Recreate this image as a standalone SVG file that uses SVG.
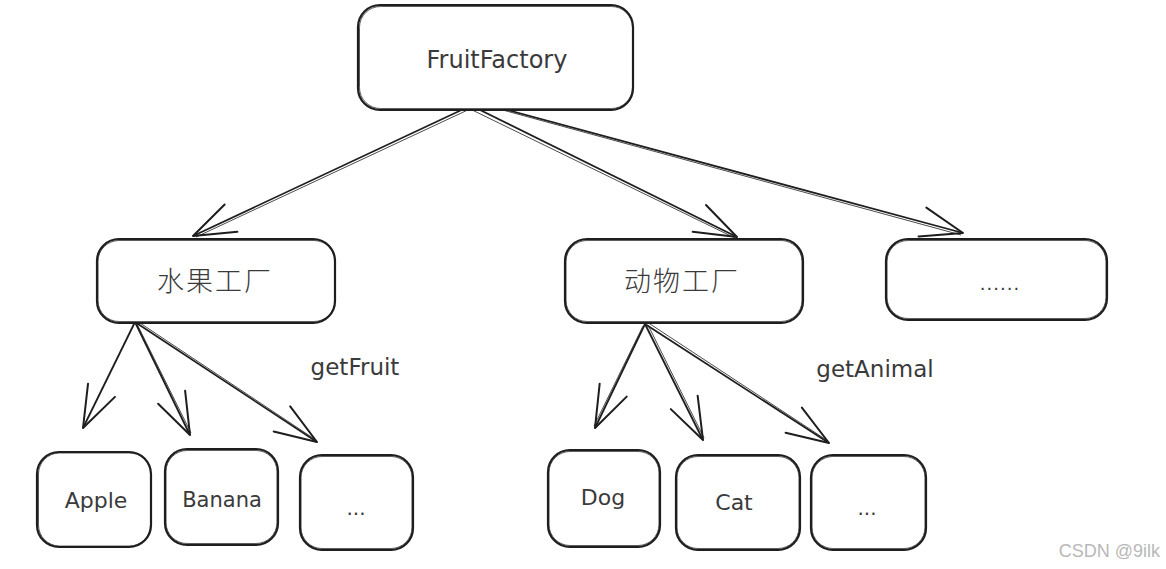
<svg xmlns="http://www.w3.org/2000/svg" width="1166" height="569" viewBox="0 0 1166 569">
<style>
.box{fill:#ffffff;stroke:#1e1e1e;stroke-width:2.2}
.box2{fill:none;stroke:#1e1e1e;stroke-width:0.9;opacity:0.8}
.lbl{font-family:"DejaVu Sans","Liberation Sans",sans-serif;fill:#3a3a3a;text-anchor:middle}
.cjk{font-family:"Noto Sans CJK SC","Noto Sans",sans-serif;font-weight:300;fill:#3a3a3a;text-anchor:middle}
.edge{fill:none;stroke:#1e1e1e;stroke-width:1.8;marker-end:url(#head)}
.edge2{fill:none;stroke:#1e1e1e;stroke-width:0.8}
.wm{font-family:"Liberation Sans",Arial,sans-serif;font-size:18px;fill:#b8b8b8;text-anchor:end}
</style>
<defs>
<marker id="head" markerUnits="userSpaceOnUse" viewBox="-50 -20 56 40" refX="0" refY="0" markerWidth="56" markerHeight="40" orient="auto" overflow="visible">
<path d="M-42,-15 L0,0 L-42,15" fill="none" stroke="#1e1e1e" stroke-width="2" stroke-linecap="round" stroke-linejoin="round"/>
</marker>
</defs>
<rect width="1166" height="569" fill="#ffffff"/>
<g id="connectors">
<line class="edge" x1="470" y1="106" x2="193" y2="236"/>
<line class="edge2" x1="472" y1="108" x2="196" y2="237"/>
<line class="edge" x1="468" y1="104" x2="737" y2="237"/>
<line class="edge2" x1="466" y1="107" x2="735" y2="238"/>
<line class="edge" x1="463" y1="98" x2="963" y2="233"/>
<line class="edge2" x1="466" y1="100" x2="961" y2="235"/>
<line class="edge" x1="135" y1="322" x2="83" y2="428"/>
<line class="edge" x1="135" y1="322" x2="190" y2="435"/>
<line class="edge2" x1="137" y1="324" x2="191" y2="433"/>
<line class="edge" x1="135" y1="322" x2="317" y2="442"/>
<line class="edge2" x1="137" y1="321" x2="316" y2="440"/>
<line class="edge" x1="645" y1="324" x2="595" y2="428"/>
<line class="edge2" x1="643" y1="326" x2="594" y2="426"/>
<line class="edge" x1="645" y1="324" x2="703" y2="440"/>
<line class="edge2" x1="648" y1="325" x2="704" y2="438"/>
<line class="edge" x1="645" y1="324" x2="829" y2="443"/>
<line class="edge2" x1="647" y1="322" x2="828" y2="441"/>
</g>
<g id="node-fruitfactory">
<rect class="box" x="358" y="5" width="275" height="105" rx="22"/>
<rect class="box2" x="359.5" y="6.5" width="273" height="102" rx="21"/>
<text class="lbl" x="497" y="68" font-size="24">FruitFactory</text>
</g>
<g id="node-fruit-factory">
<rect class="box" x="97" y="239" width="238" height="84" rx="22"/>
<rect class="box2" x="98" y="240.5" width="237" height="81" rx="21"/>
<text class="cjk" x="215" y="291" font-size="27" letter-spacing="2">水果工厂</text>
</g>
<g id="node-animal-factory">
<rect class="box" x="565" y="239" width="238" height="84" rx="22"/>
<rect class="box2" x="566" y="240.5" width="236" height="81" rx="21"/>
<text class="cjk" x="682" y="291" font-size="27" letter-spacing="2">动物工厂</text>
</g>
<g id="node-more-factory">
<rect class="box" x="886" y="239" width="221" height="81" rx="22"/>
<rect class="box2" x="887" y="240.5" width="219" height="78" rx="21"/>
<text class="lbl" x="1000" y="290" font-size="18" letter-spacing="1">......</text>
</g>
<g id="node-apple">
<rect class="box" x="37" y="452" width="114" height="95" rx="22"/>
<rect class="box2" x="38.5" y="453" width="112" height="93" rx="21"/>
<text class="lbl" x="96" y="508" font-size="22">Apple</text>
</g>
<g id="node-banana">
<rect class="box" x="165" y="449" width="113" height="96" rx="22"/>
<rect class="box2" x="166" y="450.5" width="111" height="93" rx="21"/>
<text class="lbl" x="222" y="507" font-size="21">Banana</text>
</g>
<g id="node-fruit-more">
<rect class="box" x="300" y="455" width="113" height="95" rx="22"/>
<rect class="box2" x="301" y="456.5" width="111" height="92" rx="21"/>
<text class="lbl" x="356" y="515" font-size="20">...</text>
</g>
<g id="node-dog">
<rect class="box" x="548" y="450" width="112" height="97" rx="22"/>
<rect class="box2" x="549" y="451.5" width="110" height="94" rx="21"/>
<text class="lbl" x="603" y="505" font-size="22">Dog</text>
</g>
<g id="node-cat">
<rect class="box" x="676" y="455" width="124" height="95" rx="22"/>
<rect class="box2" x="677" y="456.5" width="122" height="92" rx="21"/>
<text class="lbl" x="734" y="510" font-size="22">Cat</text>
</g>
<g id="node-animal-more">
<rect class="box" x="811" y="455" width="115" height="95" rx="22"/>
<rect class="box2" x="812" y="456.5" width="113" height="92" rx="21"/>
<text class="lbl" x="867" y="515" font-size="20">...</text>
</g>
<g id="labels">
<text class="lbl" x="355" y="375" font-size="23">getFruit</text>
<text class="lbl" x="875" y="377" font-size="23">getAnimal</text>
<text class="wm" x="1160" y="557">CSDN @9ilk</text>
</g>
</svg>
